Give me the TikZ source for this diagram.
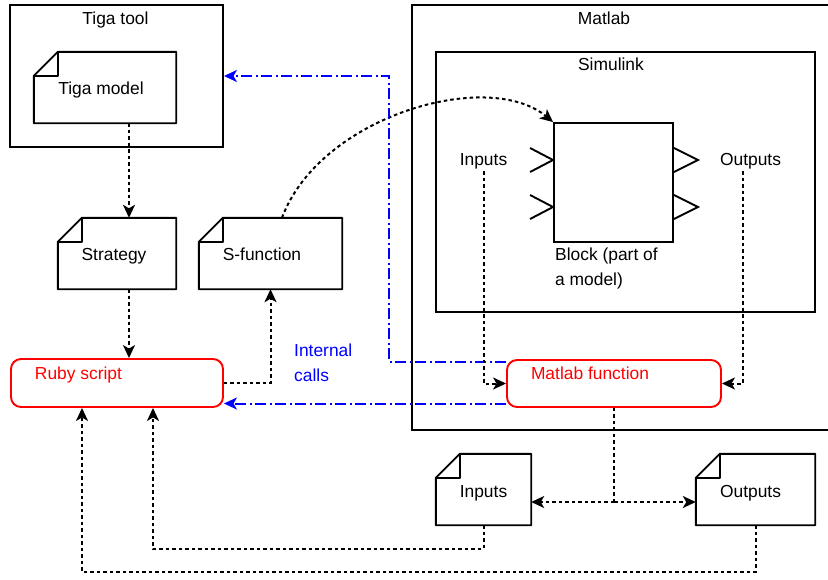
\documentclass[tikz,border=0pt]{standalone}
\usepackage{fontspec}
\setmainfont{Liberation Sans}
\usetikzlibrary{arrows.meta,calc}
\begin{document}
\begin{tikzpicture}[x=1pt,y=-1pt,
  every node/.style={font=\fontsize{17.4}{25}\selectfont, inner sep=0pt},
  txt/.style={text height=12.5pt, text depth=0pt, anchor=center},
  lw/.style={line width=1.9pt},
  container/.style={draw, lw, rectangle},
  notebox/.style={rectangle, inner sep=0pt},
  redbox/.style={draw=red, lw, rounded corners=10pt, rectangle},
  dsh/.style={line width=2pt, dash pattern=on 3.5pt off 3pt},
  arr/.style={dsh, -{Stealth[length=13pt,width=12pt,inset=3.5pt]}},
  barr/.style={blue, line width=2pt, dash pattern=on 11pt off 3.5pt on 2pt off 3.5pt, -{Stealth[length=13pt,width=12pt,inset=3.5pt]}},
]
\useasboundingbox (0,0) rectangle (828,579);

% containers
\node[container, minimum width=213pt, minimum height=142pt,
  label={[txt,xshift=-1pt,yshift=57.7pt]center:Tiga tool}] (tiga) at (116.5,76) {};
\node[container, minimum width=428pt, minimum height=425pt,
  label={[txt,xshift=-22pt,yshift=199.5pt]center:Matlab}] (matlab) at (626,217.5) {};
\node[container, minimum width=379pt, minimum height=260pt,
  label={[txt,xshift=-14.5pt,yshift=117.3pt]center:Simulink}] (simulink) at (625.5,182) {};

% notes
\node[notebox, minimum width=142pt, minimum height=71pt,
  label={[txt,xshift=-4pt,yshift=-1.2pt]center:Tiga model}] (tigamodel) at (105,87.5) {};
\node[notebox, minimum width=118pt, minimum height=71pt,
  label={[txt,xshift=-3pt,yshift=-0.5pt]center:Strategy}] (strategy) at (117,253.5) {};
\node[notebox, minimum width=143pt, minimum height=71pt,
  label={[txt,xshift=-8.5pt,yshift=-0.5pt]center:S-function}] (sfun) at (270.5,253.5) {};
\node[notebox, minimum width=95pt, minimum height=71pt,
  label={[txt,xshift=0pt,yshift=-1.5pt]center:Inputs}] (inputsnote) at (483.5,489.5) {};
\node[notebox, minimum width=119pt, minimum height=71pt,
  label={[txt,xshift=-5pt,yshift=-1.5pt]center:Outputs}] (outputsnote) at (755.5,489.5) {};
\foreach \n in {tigamodel,strategy,sfun,inputsnote,outputsnote}{
  \draw[lw, line join=round]
    ([xshift=24pt]\n.north west) -- (\n.north east) -- (\n.south east)
    -- (\n.south west) -- ([yshift=-24pt]\n.north west) -- cycle;
  \draw[lw, line join=round]
    ([yshift=-24pt]\n.north west) -- ++(24pt,0) -- ([xshift=24pt]\n.north west);
}

% red boxes
\node[redbox, minimum width=212pt, minimum height=48pt,
  label={[txt,xshift=-38.5pt,yshift=9.7pt,text=red]center:Ruby script}] (ruby) at (117,383) {};
\node[redbox, minimum width=214pt, minimum height=47pt,
  label={[txt,xshift=-24pt,yshift=10.5pt,text=red]center:Matlab function}] (mfun) at (614,383.5) {};

% block
\node[draw, lw, minimum width=119pt, minimum height=119pt] (block) at (613.5,182.5) {};
\foreach \dy in {22.5,-24.5}{
  \draw[lw] ([xshift=-23pt,yshift=\dy pt+12pt]block.west) -- ([yshift=\dy pt]block.west) -- ([xshift=-23pt,yshift=\dy pt-12pt]block.west);
  \draw[lw] ([yshift=\dy pt+12pt]block.east) -- ([xshift=24pt,yshift=\dy pt]block.east) -- ([yshift=\dy pt-12pt]block.east);
}
\node[anchor=north west, align=left] (blocklabel) at (555,248) {Block (part of\\a model)};

% labels
\node[txt] (inlabel) at (483.5,159.7) {Inputs};
\node[txt] (outlabel) at (750.5,159.7) {Outputs};
\node[anchor=north west, align=left, text=blue] (internal) at (294,343.5) {Internal\\calls};

% connectors
\draw[arr] ([xshift=24pt]tigamodel.south) -- ([xshift=12pt]strategy.north);
\draw[arr] ([xshift=12pt]strategy.south) -- ([xshift=12pt]ruby.north);
\draw[arr] (ruby.east) -| (sfun.south);
\draw[arr] ([xshift=11.5pt]sfun.north) .. controls (320,116) and (488,68) .. (block.north west);
\draw[barr] ([yshift=-3pt]mfun.north west) -| (tiga.east -| 389,0) -- (tiga.east);
\draw[barr] ([yshift=-20pt]mfun.west) -- ([yshift=-20pt]mfun.west -| ruby.east);
\draw[arr] ([yshift=-5pt]inlabel.south) |- (mfun.west);
\draw[arr] ([xshift=-7.5pt,yshift=-5pt]outlabel.south) |- (mfun.east);
\coordinate (split) at (mfun.south |- 0,502);
\draw[dsh] (mfun.south) -- (split);
\draw[arr] (split) -- (split -| inputsnote.east);
\draw[arr] (split) -- (split -| outputsnote.west);
\draw[arr] (inputsnote.south) -- (inputsnote.south |- 0,549) -| ([xshift=36pt]ruby.south);
\draw[arr] (outputsnote.south) -- (outputsnote.south |- 0,572) -| ([xshift=-35pt]ruby.south);
\end{tikzpicture}
\end{document}
